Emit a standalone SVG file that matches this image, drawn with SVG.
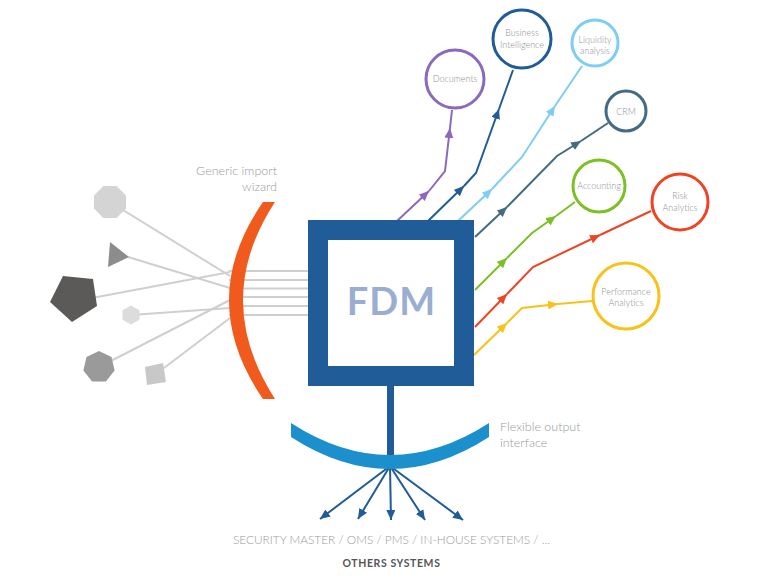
<svg xmlns="http://www.w3.org/2000/svg" width="775" height="587" viewBox="0 0 775 587">
<style>
.lbl{font-family:Lato,"Liberation Sans",sans-serif;font-weight:300;fill:#9a9a9a}
.nl{font-family:Lato,"Liberation Sans",sans-serif;font-weight:300;fill:#8f8f8f;font-size:9px;text-anchor:middle}
.gl{stroke:#cfcfcf;stroke-width:2;fill:none}
.cn{fill:none;stroke-width:2}
.nd{fill:#fff;stroke-width:3}
</style>
<defs>
<marker id="aP" markerUnits="userSpaceOnUse" markerWidth="12" markerHeight="10" refX="10" refY="4.5" orient="auto"><path d="M0,0L10,4.5L0,9z" fill="#8b69bd"/></marker>
<marker id="aB" markerUnits="userSpaceOnUse" markerWidth="12" markerHeight="10" refX="10" refY="4.5" orient="auto"><path d="M0,0L10,4.5L0,9z" fill="#1f5c98"/></marker>
<marker id="aL" markerUnits="userSpaceOnUse" markerWidth="12" markerHeight="10" refX="10" refY="4.5" orient="auto"><path d="M0,0L10,4.5L0,9z" fill="#7ecdf3"/></marker>
<marker id="aS" markerUnits="userSpaceOnUse" markerWidth="12" markerHeight="10" refX="10" refY="4.5" orient="auto"><path d="M0,0L10,4.5L0,9z" fill="#436b83"/></marker>
<marker id="aG" markerUnits="userSpaceOnUse" markerWidth="12" markerHeight="10" refX="10" refY="4.5" orient="auto"><path d="M0,0L10,4.5L0,9z" fill="#7dc025"/></marker>
<marker id="aR" markerUnits="userSpaceOnUse" markerWidth="12" markerHeight="10" refX="10" refY="4.5" orient="auto"><path d="M0,0L10,4.5L0,9z" fill="#ee4422"/></marker>
<marker id="aY" markerUnits="userSpaceOnUse" markerWidth="12" markerHeight="10" refX="10" refY="4.5" orient="auto"><path d="M0,0L10,4.5L0,9z" fill="#f8c21b"/></marker>
</defs>

<g id="connectors">
  <g id="inputs">
    <path class="gl" d="M110,202L230,276"/>
    <path class="gl" d="M128,257L230,288"/>
    <path class="gl" d="M92,298L230,272"/>
    <path class="gl" d="M131,315L230,308"/>
    <path class="gl" d="M99,367L230,300"/>
    <path class="gl" d="M156,374L230,318"/>
    <path class="gl" d="M229,271H310M229,280H310M229,288.5H310M229,297H310M229,306H310M229,315H310"/>
  </g>
  <path class="cn" stroke="#8b69bd" d="M397,221L429,191" marker-end="url(#aP)"/>
  <path class="cn" stroke="#8b69bd" d="M429,191L445,171L450,128" marker-end="url(#aP)"/>
  <path class="cn" stroke="#8b69bd" d="M450,128L452,110"/>
  <path class="cn" stroke="#1f5c98" d="M428,221L464,186" marker-end="url(#aB)"/>
  <path class="cn" stroke="#1f5c98" d="M464,186L476,173L499,109" marker-end="url(#aB)"/>
  <path class="cn" stroke="#1f5c98" d="M499,109L513,70"/>
  <path class="cn" stroke="#7ecdf3" d="M458,221L492,189" marker-end="url(#aL)"/>
  <path class="cn" stroke="#7ecdf3" d="M492,189L522,157L555,106" marker-end="url(#aL)"/>
  <path class="cn" stroke="#7ecdf3" d="M555,106L582,66"/>
  <path class="cn" stroke="#436b83" d="M475,237L507,207" marker-end="url(#aS)"/>
  <path class="cn" stroke="#436b83" d="M507,207L557,156L581,141" marker-end="url(#aS)"/>
  <path class="cn" stroke="#436b83" d="M581,141L608,123"/>
  <path class="cn" stroke="#7dc025" d="M475,290L507,258" marker-end="url(#aG)"/>
  <path class="cn" stroke="#7dc025" d="M507,258L532,233L556,216" marker-end="url(#aG)"/>
  <path class="cn" stroke="#7dc025" d="M556,216L575,202"/>
  <path class="cn" stroke="#ee4422" d="M475,327L507,294" marker-end="url(#aR)"/>
  <path class="cn" stroke="#ee4422" d="M507,294L533,267L600,235" marker-end="url(#aR)"/>
  <path class="cn" stroke="#ee4422" d="M600,235L651,211"/>
  <path class="cn" stroke="#f8c21b" d="M474,355L507,323" marker-end="url(#aY)"/>
  <path class="cn" stroke="#f8c21b" d="M507,323L522,308L558,304" marker-end="url(#aY)"/>
  <path class="cn" stroke="#f8c21b" d="M558,304L592,301"/>
  <g id="bottom-arrows">
    <path class="cn" stroke="#1f5c98" d="M390,466L320,519" marker-end="url(#aB)"/>
    <path class="cn" stroke="#1f5c98" d="M390,466L358,519" marker-end="url(#aB)"/>
    <path class="cn" stroke="#1f5c98" d="M390,466L391,520" marker-end="url(#aB)"/>
    <path class="cn" stroke="#1f5c98" d="M390,466L425,520" marker-end="url(#aB)"/>
    <path class="cn" stroke="#1f5c98" d="M390,466L463,520" marker-end="url(#aB)"/>
  </g>
</g>

<g id="sources">
  <polygon id="octagon" fill="#d4d4d4" points="116.6,186 126,195.4 126,208.6 116.6,218 103.4,218 94,208.6 94,195.4 103.4,186"/>
  <polygon id="triangle" fill="#8c8c8c" points="110,242 108,267 129,257"/>
  <polygon id="pentagon" fill="#5b5a59" points="63,276 93,279 97,306 72,322 50,302"/>
  <polygon id="hexagon" fill="#dcdcdc" points="131,305.5 139.5,310.3 139.5,319.7 131,324.5 122.5,319.7 122.5,310.3"/>
  <polygon id="heptagon" fill="#9a9a9a" points="99,351 111.5,357 114.6,370.6 105.9,381.4 92.1,381.4 83.4,370.6 86.5,357"/>
  <polygon id="square" fill="#c8c8c8" points="145,367 163,363 166,382 147,385"/>
</g>

<g id="import-wizard">
  <path fill="#f05a1c" d="M263,202Q195,300 263,399L275,399Q211,300 275,202z"/>
  <text class="lbl" font-size="12.5" text-anchor="end"><tspan x="277" y="175">Generic import</tspan><tspan x="277" y="191">wizard</tspan></text>
</g>

<g id="fdm">
  <rect x="318" y="230" width="146" height="146" fill="#fff" stroke="#1f5c98" stroke-width="20"/>
  <text x="391.5" y="315" font-family="Lato,'Liberation Sans',sans-serif" font-weight="bold" font-size="38" fill="#9aaed1" text-anchor="middle" letter-spacing="1">FDM</text>
  <rect x="387" y="385" width="7" height="71" fill="#1f5c98"/>
</g>

<g id="output-interface">
  <path fill="#1b90cc" d="M291,423Q390,487 489,423L489,437Q390,501 291,437z"/>
  <text class="lbl" font-size="12.5"><tspan x="500" y="431">Flexible output</tspan><tspan x="500" y="447">interface</tspan></text>
</g>

<g id="n-documents"><circle class="nd" cx="455" cy="79" r="29" stroke="#8b69bd"/><text class="nl" x="455" y="82">Documents</text></g>
<g id="n-bi"><circle class="nd" cx="522" cy="39" r="29" stroke="#1f5c98"/><text class="nl"><tspan x="522" y="36">Business</tspan><tspan x="522" y="48">Intelligence</tspan></text></g>
<g id="n-liquidity"><circle class="nd" cx="595" cy="43" r="23" stroke="#7ecdf3"/><text class="nl" font-size="8.5"><tspan x="595" y="43">Liquidity</tspan><tspan x="595" y="54">analysis</tspan></text></g>
<g id="n-crm"><circle class="nd" cx="626" cy="111" r="20" stroke="#436b83"/><text class="nl" x="626" y="114.5" font-size="9.5">CRM</text></g>
<g id="n-accounting"><circle class="nd" cx="599" cy="186" r="26" stroke="#7dc025"/><text class="nl" x="599" y="189">Accounting</text></g>
<g id="n-risk"><circle class="nd" cx="680" cy="202" r="28" stroke="#ee4422"/><text class="nl"><tspan x="680" y="199">Risk</tspan><tspan x="680" y="211">Analytics</tspan></text></g>
<g id="n-performance"><circle class="nd" cx="626" cy="296" r="33" stroke="#f8c21b"/><text class="nl"><tspan x="626" y="295">Performance</tspan><tspan x="626" y="306">Analytics</tspan></text></g>

<g id="systems">
  <text class="lbl" x="233" y="544" font-size="12" fill="#999" textLength="317" lengthAdjust="spacingAndGlyphs">SECURITY MASTER / OMS / PMS / IN-HOUSE SYSTEMS / ...</text>
  <text x="391.5" y="567" font-family="Lato,'Liberation Sans',sans-serif" font-weight="bold" font-size="10.5" fill="#555" text-anchor="middle" letter-spacing="0.6">OTHERS SYSTEMS</text>
</g>
</svg>
